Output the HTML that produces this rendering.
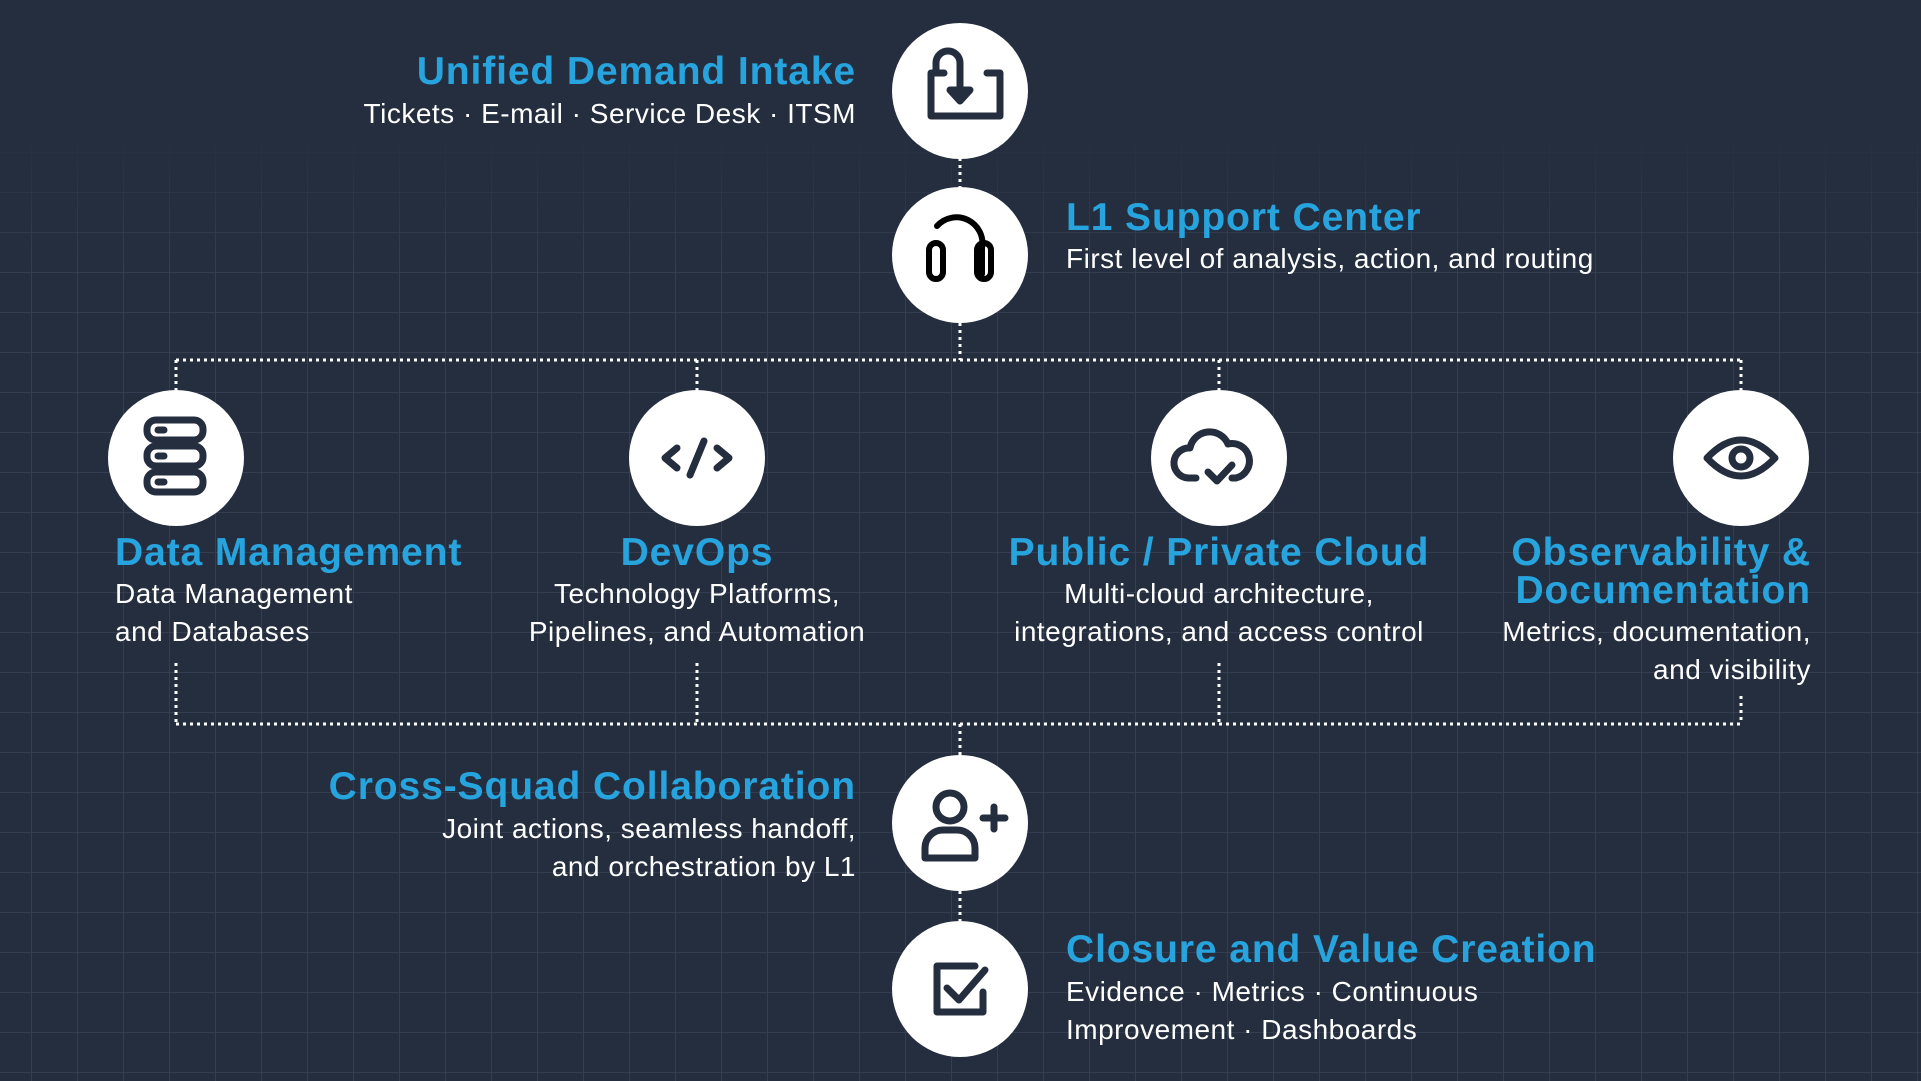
<!DOCTYPE html>
<html><head><meta charset="utf-8"><style>
html,body{margin:0;padding:0;background:#252e3e;}
svg{display:block}
.t{font-family:"Liberation Sans",sans-serif;font-weight:bold;font-size:39px;letter-spacing:0.9px;fill:#27a4de}
.s{font-family:"Liberation Sans",sans-serif;font-size:28px;letter-spacing:0.5px;fill:#ffffff}
.d{stroke:#fff;stroke-width:3;stroke-dasharray:3 4;fill:none}
.i{fill:none;stroke:#252e3e;stroke-width:7;stroke-linecap:round;stroke-linejoin:round}
</style></head><body>
<svg width="1921" height="1081" viewBox="0 0 1921 1081" xmlns="http://www.w3.org/2000/svg">
<defs>
<pattern id="g" width="46" height="40" patternUnits="userSpaceOnUse" x="31" y="32">
<path d="M0 0H46M0 0V40" stroke="#3a4456" stroke-width="1.5" fill="none"/>
</pattern>
<linearGradient id="fg" x1="0" y1="0" x2="0" y2="1">
<stop offset="0" stop-color="#fff" stop-opacity="0"/>
<stop offset="0.15" stop-color="#fff" stop-opacity="1"/>
<stop offset="1" stop-color="#fff" stop-opacity="1"/>
</linearGradient>
<mask id="m"><rect x="0" y="130" width="1921" height="951" fill="url(#fg)"/></mask>
</defs>
<rect width="1921" height="1081" fill="#252e3e"/>
<rect width="1921" height="1081" fill="url(#g)" mask="url(#m)"/>

<line class="d" x1="960" y1="158" x2="960" y2="188"/>
<line class="d" x1="960" y1="323" x2="960" y2="360"/>
<line class="d" x1="176" y1="360" x2="1741" y2="360"/>
<line class="d" x1="176" y1="360" x2="176" y2="392"/>
<line class="d" x1="697" y1="360" x2="697" y2="392"/>
<line class="d" x1="1219" y1="360" x2="1219" y2="392"/>
<line class="d" x1="1741" y1="360" x2="1741" y2="392"/>
<line class="d" x1="176" y1="663" x2="176" y2="724"/>
<line class="d" x1="697" y1="663" x2="697" y2="724"/>
<line class="d" x1="1219" y1="663" x2="1219" y2="724"/>
<line class="d" x1="1741" y1="696" x2="1741" y2="724"/>
<line class="d" x1="176" y1="724" x2="1741" y2="724"/>
<line class="d" x1="960" y1="724" x2="960" y2="756"/>
<line class="d" x1="960" y1="891" x2="960" y2="921"/>

<g fill="#fff">
<circle cx="960" cy="91" r="68"/>
<circle cx="960" cy="255" r="68"/>
<circle cx="176" cy="458" r="68"/>
<circle cx="697" cy="458" r="68"/>
<circle cx="1219" cy="458" r="68"/>
<circle cx="1741" cy="458" r="68"/>
<circle cx="960" cy="823" r="68"/>
<circle cx="960" cy="989" r="68"/>
</g>

<g class="i">
<path d="M944 73h-13v43h69v-43h-13"/>
<path d="M936 73v-10a12 12 0 0 1 24 0v36"/>
<path d="M950 90l10 11l10 -11z" fill="#252e3e"/>
<path d="M937 226a26 26 0 0 1 45 22v26" stroke="#000" stroke-width="6"/>
<rect x="929" y="243" width="14" height="36" rx="7" stroke="#000" stroke-width="6"/>
<rect x="977" y="243" width="14" height="36" rx="7" stroke="#000" stroke-width="6"/>
<rect x="147" y="420" width="56" height="20" rx="9"/>
<rect x="147" y="446" width="56" height="20" rx="9"/>
<rect x="147" y="472" width="56" height="20" rx="9"/>
<line x1="158" y1="430" x2="164" y2="430"/>
<line x1="158" y1="456" x2="164" y2="456"/>
<line x1="158" y1="482" x2="164" y2="482"/>
<path d="M677 448l-12 10l12 10M717 448l12 10l-12 10M704 441l-14 34"/>
<path d="M1196 478h-8a15 15 0 0 1 2 -30a20 20 0 0 1 38 -4a16 16 0 0 1 8 34h-4"/>
<path d="M1208 472l9 9l15 -16"/>
<path d="M1707 458q34 -36 68 0q-34 36 -68 0z"/>
<circle cx="1741" cy="458" r="9"/>
<circle cx="950" cy="807" r="14"/>
<path d="M925 858v-10a18 18 0 0 1 18 -18h14a18 18 0 0 1 18 18v10z"/>
<path d="M983 818h22M994 807v22"/>
<path d="M975 966h-38v46h46v-20"/>
<path d="M947 988l12 12l26 -30"/>
</g>

<text class="t" x="856" y="84" text-anchor="end">Unified Demand Intake</text>
<text class="s" x="856" y="123" text-anchor="end">Tickets · E-mail · Service Desk · ITSM</text>

<text class="t" x="1066" y="230">L1 Support Center</text>
<text class="s" x="1066" y="268">First level of analysis, action, and routing</text>

<text class="t" x="115" y="565">Data Management</text>
<text class="s" x="115" y="603">Data Management</text>
<text class="s" x="115" y="641">and Databases</text>

<text class="t" x="697" y="565" text-anchor="middle">DevOps</text>
<text class="s" x="697" y="603" text-anchor="middle">Technology Platforms,</text>
<text class="s" x="697" y="641" text-anchor="middle">Pipelines, and Automation</text>

<text class="t" x="1219" y="565" text-anchor="middle">Public / Private Cloud</text>
<text class="s" x="1219" y="603" text-anchor="middle">Multi-cloud architecture,</text>
<text class="s" x="1219" y="641" text-anchor="middle">integrations, and access control</text>

<text class="t" x="1811" y="565" text-anchor="end">Observability &amp;</text>
<text class="t" x="1811" y="603" text-anchor="end">Documentation</text>
<text class="s" x="1811" y="641" text-anchor="end">Metrics, documentation,</text>
<text class="s" x="1811" y="679" text-anchor="end">and visibility</text>

<text class="t" x="856" y="799" text-anchor="end">Cross-Squad Collaboration</text>
<text class="s" x="856" y="838" text-anchor="end">Joint actions, seamless handoff,</text>
<text class="s" x="856" y="876" text-anchor="end">and orchestration by L1</text>

<text class="t" x="1066" y="962">Closure and Value Creation</text>
<text class="s" x="1066" y="1001">Evidence · Metrics · Continuous</text>
<text class="s" x="1066" y="1039">Improvement · Dashboards</text>
</svg>
</body></html>
